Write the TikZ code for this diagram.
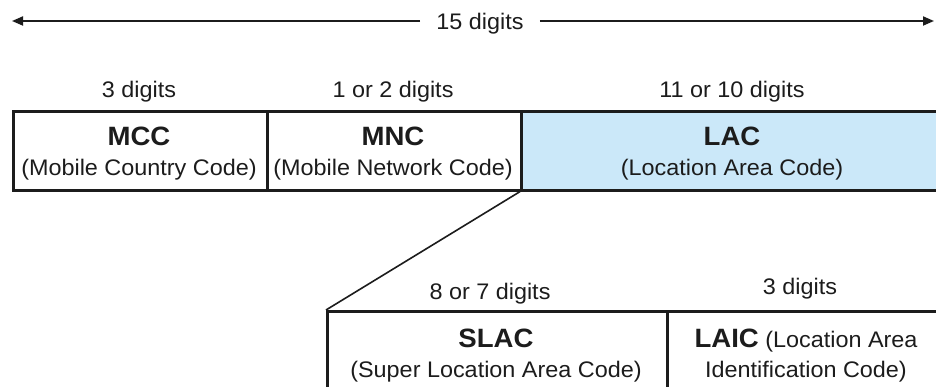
\documentclass[tikz,border=0pt]{standalone}
\usepackage{fontspec}
\setmainfont{Liberation Sans}[FakeStretch=1.04]
\usetikzlibrary{arrows.meta}
\definecolor{lacblue}{HTML}{CBE8F9}
\definecolor{ink}{HTML}{1C1C1C}
\tikzset{
  cell/.style={draw=ink, line width=2.6pt, anchor=north west, inner sep=0pt},
  lbl/.style={anchor=base, inner sep=0pt, text=ink, font=\fontsize{22.5}{24}\selectfont},
  head/.style={anchor=base, inner sep=0pt, text=ink, font=\fontsize{26.5}{28}\selectfont\bfseries},
  span/.style={draw=ink, line width=1.8pt, -{Triangle[length=11pt,width=9pt]}},
}
\begin{document}
\begin{tikzpicture}[x=1pt,y=-1pt]
  \clip (0,0) rectangle (936,387);
  \fill[white] (0,0) rectangle (936,387);

  % overall length
  \node[lbl, inner xsep=16pt] (total) at (480,30) {15 digits};
  \coordinate (lefttip) at (12,21);
  \coordinate (righttip) at (934,21);
  \draw[span] (total.west |- lefttip) -- (lefttip);
  \draw[span] (total.east |- righttip) -- (righttip);

  % upper row of fields
  \node[cell, minimum width=254pt, minimum height=79pt] (mcc) at (12,110) {};
  \node[cell, minimum width=254pt, minimum height=79pt] (mnc) at (266,110) {};
  \node[cell, fill=lacblue, minimum width=440pt, minimum height=79pt] (lac) at (520,110) {};

  \node[lbl] (mccd) at (139,98) {3 digits};
  \node[lbl] (mncd) at (393,98) {1 or 2 digits};
  \node[lbl] (lacd) at (732,98) {11 or 10 digits};

  \node[head] (mcch) at (139,146) {MCC};
  \node[lbl] (mcct) at (139,176) {(Mobile Country Code)};
  \node[head] (mnch) at (393,146) {MNC};
  \node[lbl] (mnct) at (393,176) {(Mobile Network Code)};
  \node[head] (lach) at (732,146) {LAC};
  \node[lbl] (lact) at (732,176) {(Location Area Code)};

  % lower row: breakdown of LAC
  \node[cell, minimum width=340pt, minimum height=120pt] (slac) at (326,310) {};
  \node[cell, minimum width=300pt, minimum height=120pt] (laic) at (666,310) {};

  \draw[draw=ink, line width=1.6pt] (lac.south west) -- (slac.north west);

  \node[lbl] (slacd) at (490,299) {8 or 7 digits};
  \node[lbl] (laicd) at (800,294) {3 digits};

  \node[head] (slach) at (496,347) {SLAC};
  \node[lbl] (slact) at (496,377) {(Super Location Area Code)};
  \node[lbl] (laich) at (806,347) {{\fontsize{26.5}{28}\selectfont\bfseries LAIC} (Location Area};
  \node[lbl] (laict) at (806,377) {Identification Code)};
\end{tikzpicture}
\end{document}
